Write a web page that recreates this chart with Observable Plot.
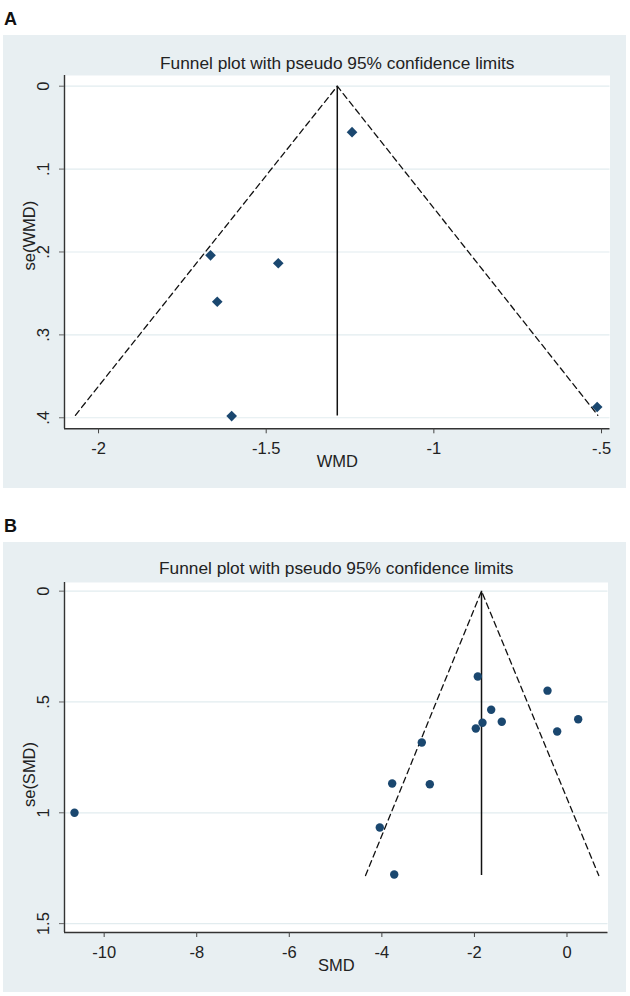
<!DOCTYPE html>
<html>
<head>
<meta charset="utf-8">
<script src="https://cdn.jsdelivr.net/npm/d3@7"></script>
<script src="https://cdn.jsdelivr.net/npm/@observablehq/plot@0.6"></script>
<style>
  html, body { margin: 0; padding: 0; background: #ffffff; }
  body { position: relative; width: 630px; height: 996px; overflow: hidden; font-family: Arial, "Liberation Sans", sans-serif; }
  .plabel { position: absolute; left: 4px; font-weight: bold; font-size: 18px; line-height: 18px; color: #111; }
  .bg { position: absolute; left: 3px; width: 623px; background: #e8eff2; }
  .chart { position: absolute; left: 0; }
</style>
</head>
<body>
<div class="plabel" style="top:10px">A</div>
<div class="bg" style="top:35px;height:453px"></div>
<div class="chart" id="chartA" style="top:35px"></div>
<div class="plabel" style="top:517px">B</div>
<div class="bg" style="top:542px;height:450px"></div>
<div class="chart" id="chartB" style="top:542px"></div>
<script>
// ---------- Panel A data ----------
const titleText = "Funnel plot with pseudo 95% confidence limits";
const wmd   = [-1.244, -1.666, -1.464, -1.646, -1.603, -0.513];
const seWmd = [0.0555, 0.204, 0.2136, 0.260, 0.398, 0.387];
const funnelAx  = [-2.069, -1.288, -0.511];
const funnelAse = [0.397, 0, 0.397];
const pooledA = -1.288;
const seMaxA = 0.398;
const xTicksA = [-2, -1.5, -1, -0.5];
const xTickLabelsA = ["-2", "-1.5", "-1", "-.5"];
const yTicksA = [0, 0.1, 0.2, 0.3, 0.4];
const yTickLabelsA = ["0", ".1", ".2", ".3", ".4"];
const xDomainA = [-2.1015, -0.4747];
const yDomainA = [-0.0129, 0.4133];

// ---------- Panel B data ----------
const smd   = [-1.927, -0.421, -1.638, 0.242, -1.826, -1.409, -1.970, -0.212, -3.137, -3.777, -2.964, -4.045, -3.733, -10.641];
const seSmd = [0.385, 0.449, 0.535, 0.578, 0.594, 0.589, 0.620, 0.633, 0.683, 0.868, 0.871, 1.066, 1.278, 1.000];
const funnelBx  = [-4.353, -1.847, 0.687];
const funnelBse = [1.283, 0, 1.283];
const pooledB = -1.847;
const seMaxB = 1.283;
const xTicksB = [-10, -8, -6, -4, -2, 0];
const xTickLabelsB = ["-10", "-8", "-6", "-4", "-2", "0"];
const yTicksB = [0, 0.5, 1, 1.5];
const yTickLabelsB = ["0", ".5", "1", "1.5"];
const xDomainB = [-10.857, 0.886];
const yDomainB = [-0.039, 1.540];

const markerColor = "#1a476f";
const textColor = "#222222";
const FONT = 'Arial, "Liberation Sans", sans-serif';

function funnel(cfg) {
  const pts = cfg.xs.map((x, i) => ({x, se: cfg.ses[i]}));
  const funnelPts = cfg.fx.map((x, i) => ({x, se: cfg.fse[i]}));
  return Plot.plot({
    width: 630,
    height: cfg.height,
    marginLeft: 64,
    marginRight: cfg.marginRight,
    marginTop: 40,
    marginBottom: cfg.marginBottom,
    style: {background: "transparent", fontFamily: FONT, color: textColor},
    x: {domain: cfg.xDomain},
    y: {domain: cfg.yDomain, reverse: true},
    marks: [
      Plot.frame({fill: "white", stroke: null}),
      Plot.gridY(cfg.yTicks, {stroke: "#e2ecef", strokeOpacity: 1, strokeWidth: 1.2}),
      Plot.line(funnelPts, {x: "x", y: "se", stroke: "#111", strokeWidth: 1.3, strokeDasharray: "6,4"}),
      Plot.ruleX([cfg.pooled], {y1: 0, y2: cfg.seMax, stroke: "#111", strokeWidth: 1.5}),
      Plot.dot(pts, {x: "x", y: "se", symbol: cfg.symbol, r: cfg.r, fill: markerColor, stroke: "none"}),
      Plot.ruleX([cfg.xDomain[0]], {stroke: "#333", strokeWidth: 1.4}),
      Plot.ruleY([cfg.yDomain[1]], {stroke: "#333", strokeWidth: 1.4}),
      Plot.axisX(cfg.xTicks, {
        tickSize: 5, tickPadding: 8.4, fontSize: 16.5, stroke: "#444", fill: textColor,
        tickFormat: d => cfg.xLabels[cfg.xTicks.indexOf(d)], label: null
      }),
      Plot.axisY(cfg.yTicks, {tickSize: 5, stroke: "#666", tickFormat: () => "", label: null}),
      Plot.text(cfg.yTicks, {
        y: d => d, frameAnchor: "left", text: (d, i) => cfg.yLabels[i],
        rotate: -90, dx: -21, textAnchor: "middle", lineAnchor: "middle",
        fontSize: 16.5, fill: textColor
      }),
      Plot.text([cfg.yTitle], {
        text: d => d, frameAnchor: "left", rotate: -90, dx: -35, dy: cfg.yTitleDy,
        textAnchor: "middle", lineAnchor: "middle", fontSize: 16.5, fill: textColor
      }),
      Plot.text([cfg.xTitle], {
        text: d => d, frameAnchor: "bottom", dy: 38.4, lineAnchor: "bottom",
        textAnchor: "middle", fontSize: 16.5, fill: textColor
      }),
      Plot.text([titleText], {
        text: d => d, frameAnchor: "top", dy: cfg.titleDy, lineAnchor: "bottom",
        textAnchor: "middle", fontSize: 17.3, fill: textColor
      })
    ]
  });
}

document.getElementById("chartA").append(funnel({
  height: 453, marginRight: 20.5, marginBottom: 59.7,
  xs: wmd, ses: seWmd, fx: funnelAx, fse: funnelAse,
  pooled: pooledA, seMax: seMaxA,
  xDomain: xDomainA, yDomain: yDomainA,
  xTicks: xTicksA, xLabels: xTickLabelsA, yTicks: yTicksA, yLabels: yTickLabelsA,
  symbol: "diamond2", r: 4.8,
  yTitle: "se(WMD)", xTitle: "WMD", yTitleDy: -16.5, titleDy: -7
}));

document.getElementById("chartB").append(funnel({
  height: 450, marginRight: 22.5, marginBottom: 60,
  xs: smd, ses: seSmd, fx: funnelBx, fse: funnelBse,
  pooled: pooledB, seMax: seMaxB,
  xDomain: xDomainB, yDomain: yDomainB,
  xTicks: xTicksB, xLabels: xTickLabelsB, yTicks: yTicksB, yLabels: yTickLabelsB,
  symbol: "circle", r: 4.2,
  yTitle: "se(SMD)", xTitle: "SMD", yTitleDy: 17, titleDy: -9
}));
</script>
</body>
</html>
